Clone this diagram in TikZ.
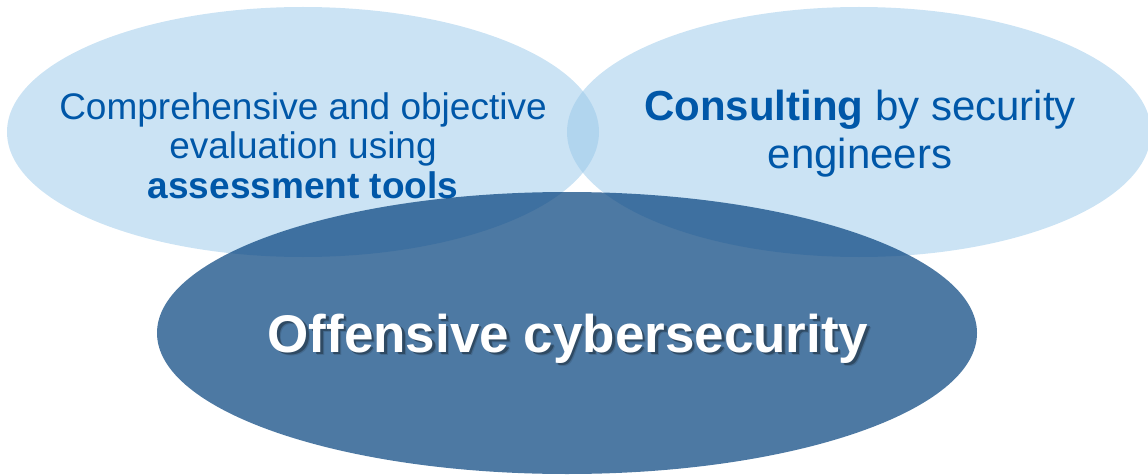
\documentclass[tikz,border=0pt]{standalone}
\usepackage{fontspec}
\setmainfont{Liberation Sans}
\usetikzlibrary{shapes.geometric}
\definecolor{lightblob}{RGB}{151,199,233}
\definecolor{darkblob}{RGB}{2,64,124}
\definecolor{bluetext}{RGB}{0,87,168}
\begin{document}
\begin{tikzpicture}[x=1pt,y=-1pt,
  blob/.style={ellipse, inner sep=0pt, outer sep=0pt, draw=none},
  lightblob/.style={blob, fill=lightblob, fill opacity=0.5},
  darkblob/.style={blob, fill=darkblob, fill opacity=0.7},
  smalllabel/.style={text=bluetext, align=center, inner sep=0pt,
    font=\fontsize{37pt}{39.5pt}\selectfont},
  biglabel/.style={text=bluetext, align=center, inner sep=0pt,
    font=\fontsize{42pt}{48pt}\selectfont},
  mainlabel/.style={inner sep=0pt, anchor=base,
    font=\fontsize{53pt}{60pt}\selectfont\bfseries},
  shadowlabel/.style={mainlabel, text=black}]
\useasboundingbox (0,0) rectangle (1148,476);
\clip (0,0) rectangle (1148,476);

% two light circles of the upper row
\node[lightblob, minimum width=592pt, minimum height=250pt] (evalblob) at (303,132) {};
\node[lightblob, minimum width=584pt, minimum height=250pt] (consultblob) at (859,132) {};

\node[smalllabel, anchor=north] (evaltext) at (303,92)
  {Comprehensive and objective\\evaluation using\\\textbf{assessment tools}};
\node[biglabel, anchor=north] (consulttext) at (860,90)
  {\textbf{Consulting} by security\\engineers};

% dark circle in front
\node[darkblob, minimum width=820pt, minimum height=282pt] (offblob) at (567,333) {};

% soft drop shadow under the title
\node[shadowlabel, text opacity=0.12] (offshadowb) at (571.5,355.5) {Offensive cybersecurity};
\node[shadowlabel, text opacity=0.30] (offshadowa) at (570.5,354.5) {Offensive cybersecurity};
\node[mainlabel, text=white] (offtext) at (568,352) {Offensive cybersecurity};
\end{tikzpicture}
\end{document}
